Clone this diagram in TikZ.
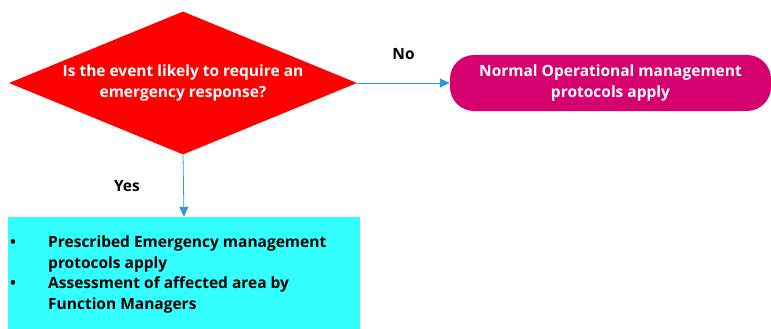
\documentclass[tikz,border=0pt]{standalone}
\usepackage{fontspec}
\setmainfont{Open Sans}
\usetikzlibrary{shapes.geometric,arrows.meta}
\definecolor{qred}{HTML}{FF0000}
\definecolor{qpink}{HTML}{D6006F}
\definecolor{qcyan}{HTML}{33FFFF}
\definecolor{qblue}{HTML}{2E9BD6}
\tikzstyle{decide}=[diamond, fill=qred, inner sep=-12pt, aspect=2.43, minimum width=348pt, minimum height=143pt, text=white, align=center, font=\fontsize{15.5}{20.5}\selectfont\bfseries]
\tikzstyle{normal}=[rectangle, rounded corners=24pt, fill=qpink, minimum width=321pt, minimum height=56pt, text=white, align=center, font=\fontsize{15.5}{20.5}\selectfont\bfseries]
\tikzstyle{emerg}=[rectangle, fill=qcyan, minimum width=352pt, minimum height=114pt, inner sep=0pt]
\tikzstyle{lbl}=[font=\fontsize{15.5}{20.5}\selectfont\bfseries, text=black]
\tikzstyle{flow}=[draw=qblue, thick, -{Triangle[length=10pt,width=9pt]}]

\begin{document}
\begin{tikzpicture}[x=1pt, y=-1pt]
\useasboundingbox (0,0) rectangle (771,329);

\node[decide] (q) at (183,83) {Is the event likely to require an\\emergency response?};
\node[normal] (n) at (610.5,83) {Normal Operational management\\protocols apply};
\node[emerg] (e) at (184,274) {};
\node[lbl, anchor=north west, inner sep=0pt] (etext) at (10,233)
  {\begin{tabular}{@{}p{38pt}@{}l@{}}
   \textbullet & Prescribed Emergency management\\
               & protocols apply\\
   \textbullet & Assessment of affected area by\\
               & Function Managers
   \end{tabular}};

\draw[flow] (q.east) -- (n.west) node[lbl, midway, above=20pt] (no) {No};
\draw[flow] (q.south) -- (e.north) node[lbl, midway, left=40pt] (yes) {Yes};

\end{tikzpicture}
\end{document}
